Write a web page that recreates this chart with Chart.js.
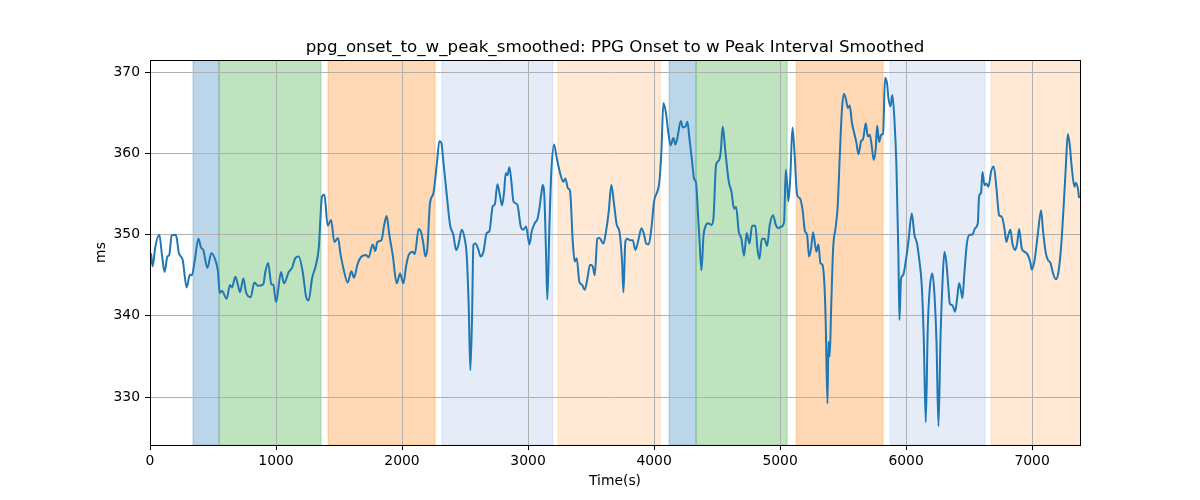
<!DOCTYPE html>
<html>
<head>
<meta charset="utf-8">
<title>ppg_onset_to_w_peak_smoothed</title>
<script src="https://cdn.jsdelivr.net/npm/chart.js@4.4.1/dist/chart.umd.min.js"></script>
<style>
  html, body { margin: 0; padding: 0; background: #fff; }
  #wrap { width: 1200px; height: 500px; }
</style>
</head>
<body>
<div id="wrap"><canvas id="chart" width="1200" height="500"></canvas></div>
<script>
// Series: time (s) and interval (ms)
const timeS = [
  8, 21, 42, 74, 95, 116, 138, 153, 172, 201, 212, 228, 259, 291, 317, 333, 354, 384, 405, 423,
  455, 487, 524, 540, 553, 571, 608, 635, 651, 677, 698, 714, 741, 762, 799, 828, 857, 899, 915, 937,
  963, 979, 1000, 1040, 1063, 1101, 1127, 1153, 1180, 1212, 1238, 1259, 1286, 1317, 1339, 1365, 1384, 1410, 1437, 1463,
  1492, 1511, 1534, 1569, 1598, 1619, 1646, 1672, 1714, 1735, 1767, 1788, 1804, 1836, 1860, 1878, 1899, 1926, 1958, 1984,
  2011, 2032, 2053, 2085, 2101, 2132, 2153, 2169, 2185, 2201, 2222, 2249, 2278, 2296, 2312, 2328, 2355, 2381, 2407, 2429,
  2447, 2474, 2497, 2513, 2529, 2542, 2556, 2566, 2582, 2603, 2624, 2646, 2672, 2693, 2720, 2736, 2757, 2778, 2794, 2810,
  2823, 2836, 2852, 2868, 2884, 2915, 2942, 2963, 2984, 3011, 3029, 3053, 3074, 3090, 3106, 3116, 3130, 3143, 3153, 3169,
  3185, 3206, 3228, 3254, 3280, 3296, 3317, 3333, 3355, 3370, 3386, 3407, 3429, 3450, 3471, 3492, 3513, 3529, 3550, 3566,
  3598, 3619, 3640, 3661, 3683, 3704, 3725, 3746, 3757, 3772, 3788, 3810, 3831, 3852, 3878, 3900, 3921, 3937, 3958, 3979,
  4000, 4026, 4042, 4058, 4074, 4095, 4111, 4132, 4153, 4169, 4185, 4212, 4228, 4249, 4265, 4280, 4302, 4317, 4333, 4349,
  4360, 4376, 4392, 4407, 4429, 4455, 4471, 4492, 4513, 4529, 4545, 4566, 4593, 4614, 4635, 4651, 4672, 4693, 4714, 4735,
  4757, 4778, 4804, 4820, 4836, 4855, 4876, 4897, 4918, 4944, 4966, 4987, 5013, 5032, 5045, 5055, 5066, 5082, 5098, 5114,
  5135, 5156, 5177, 5198, 5214, 5230, 5246, 5262, 5288, 5304, 5320, 5336, 5352, 5362, 5376, 5384, 5394, 5405, 5421, 5442,
  5458, 5474, 5489, 5505, 5521, 5537, 5553, 5569, 5590, 5606, 5622, 5643, 5659, 5680, 5696, 5712, 5728, 5743, 5759, 5770,
  5786, 5802, 5817, 5833, 5849, 5860, 5876, 5891, 5907, 5923, 5939, 5947, 5960, 5976, 5997, 6018, 6045, 6066, 6087, 6103,
  6124, 6140, 6156, 6172, 6188, 6209, 6225, 6241, 6257, 6273, 6289, 6304, 6320, 6336, 6347, 6368, 6389, 6405, 6421, 6437,
  6447, 6463, 6484, 6505, 6526, 6548, 6569, 6579, 6595, 6606, 6622, 6637, 6653, 6675, 6696, 6717, 6738, 6759, 6780, 6796,
  6812, 6828, 6844, 6865, 6881, 6897, 6918, 6939, 6966, 6987, 6997, 7018, 7045, 7071, 7087, 7109, 7125, 7146, 7167, 7188,
  7209, 7230, 7251, 7267, 7283, 7299, 7315, 7336, 7347, 7363, 7373
];
const valueMs = [
  347.7, 346.1, 348.5, 350.0, 347.5, 345.4, 347.3, 347.5, 349.9, 350.0, 349.6, 347.8, 346.9, 343.5, 345.1, 345.0, 346.7, 349.5, 348.4, 348.1,
  345.9, 347.7, 346.6, 345.4, 342.8, 343.1, 342.1, 343.8, 343.5, 344.8, 343.8, 342.9, 344.6, 342.9, 342.3, 344.1, 343.7, 343.9, 345.4, 346.5,
  343.9, 343.8, 341.7, 345.4, 344.0, 345.4, 345.9, 347.1, 347.3, 345.4, 342.4, 341.9, 344.6, 346.3, 348.3, 354.7, 354.9, 351.1, 351.8, 349.1,
  349.6, 347.7, 345.9, 344.1, 345.5, 344.7, 346.3, 347.2, 347.5, 347.2, 348.8, 348.0, 349.1, 349.3, 351.3, 352.3, 350.0, 347.5, 344.0, 345.2,
  344.0, 346.1, 347.5, 347.9, 347.6, 350.7, 350.2, 348.9, 347.3, 348.3, 353.9, 355.1, 359.0, 361.5, 361.3, 359.0, 354.9, 351.2, 350.0, 348.1,
  348.7, 350.6, 349.5, 347.5, 341.3, 333.3, 340.1, 348.7, 348.9, 348.3, 347.3, 347.9, 350.2, 350.4, 353.5, 353.7, 356.2, 354.7, 353.6, 355.3,
  357.6, 357.3, 358.3, 356.5, 354.1, 353.7, 351.0, 350.6, 351.0, 348.8, 350.4, 351.4, 351.9, 353.2, 355.1, 356.1, 354.5, 347.5, 342.0, 350.8,
  357.8, 361.1, 359.4, 357.6, 356.5, 356.9, 355.7, 355.4, 349.1, 346.7, 347.1, 344.2, 343.8, 343.2, 344.6, 346.3, 346.1, 345.0, 349.5, 349.6,
  348.9, 350.4, 352.8, 356.1, 353.7, 351.2, 350.4, 346.7, 342.9, 349.1, 349.5, 349.3, 349.3, 348.1, 349.5, 350.8, 350.0, 348.9, 348.8, 350.8,
  354.1, 355.3, 356.5, 360.2, 366.2, 364.9, 362.8, 361.0, 361.9, 361.1, 361.9, 364.0, 363.2, 363.3, 363.9, 361.9, 359.0, 356.9, 356.4, 352.4,
  349.5, 345.6, 349.8, 351.0, 351.4, 351.2, 352.0, 358.6, 359.1, 360.2, 363.3, 360.2, 356.5, 355.3, 353.2, 353.4, 350.4, 349.5, 347.4, 350.2,
  348.9, 351.1, 351.1, 348.3, 347.0, 349.5, 349.5, 348.6, 351.2, 352.4, 351.2, 350.8, 351.0, 351.6, 358.0, 356.5, 354.1, 357.4, 363.2, 360.2,
  354.9, 354.5, 353.2, 350.4, 350.0, 347.3, 348.3, 350.3, 347.9, 348.8, 346.5, 346.3, 343.8, 339.3, 329.2, 336.8, 335.0, 340.8, 348.3, 351.0,
  353.7, 359.8, 364.9, 367.3, 366.8, 365.6, 365.9, 363.9, 362.4, 361.3, 359.9, 361.5, 361.8, 363.7, 362.1, 362.3, 360.8, 359.2, 360.6, 363.4,
  361.4, 362.3, 362.4, 369.3, 368.6, 366.8, 365.8, 367.2, 364.3, 358.6, 347.5, 339.5, 344.6, 345.0, 346.7, 349.1, 352.6, 350.0, 348.9, 347.1,
  343.8, 337.3, 326.9, 338.5, 343.4, 345.2, 342.6, 336.9, 326.4, 337.3, 344.2, 347.9, 346.5, 343.4, 341.5, 341.3, 340.5, 342.2, 344.0, 343.0,
  342.2, 345.4, 349.1, 350.0, 350.0, 350.8, 351.4, 354.7, 355.2, 357.7, 356.1, 356.3, 355.9, 357.8, 358.4, 355.7, 352.4, 352.2, 350.8, 349.1,
  350.0, 350.6, 348.9, 348.1, 348.9, 350.7, 348.3, 347.9, 347.5, 346.5, 345.7, 346.7, 350.0, 353.0, 350.4, 347.7, 346.9, 346.5, 345.2, 344.5,
  345.4, 348.5, 353.7, 358.2, 362.4, 361.0, 358.2, 355.9, 356.4, 355.7, 354.5
];

// Tick labels
const xTicks = [0, 1000, 2000, 3000, 4000, 5000, 6000, 7000];
const yTicks = [330, 340, 350, 360, 370];

// Shaded phases (start, end in seconds)
const bandStart = [341, 548, 1413, 2317, 3238, 4119, 4333, 5127, 5873, 6675];
const bandEnd = [548, 1357, 2262, 3198, 4048, 4333, 5056, 5817, 6627, 7400];
const bandColor = [
  "rgba(31,119,180,0.3)", "rgba(44,160,44,0.3)", "rgba(255,127,14,0.3)",
  "rgba(80,130,200,0.15)", "rgba(255,127,14,0.18)",
  "rgba(31,119,180,0.3)", "rgba(44,160,44,0.3)", "rgba(255,127,14,0.3)",
  "rgba(80,130,200,0.15)", "rgba(255,127,14,0.18)"
];

const TITLE = "ppg_onset_to_w_peak_smoothed: PPG Onset to w Peak Interval Smoothed";
const FONT = "'DejaVu Sans', sans-serif";

// Draw the shaded spans under the grid
const bandPlugin = {
  id: "bands",
  beforeDraw(chart) {
    const { ctx, chartArea, scales } = chart;
    if (!chartArea) return;
    const x = scales.x;
    ctx.save();
    ctx.beginPath();
    ctx.rect(chartArea.left, chartArea.top, chartArea.right - chartArea.left, chartArea.bottom - chartArea.top);
    ctx.clip();
    bandStart.forEach((s, i) => {
      const x0 = x.getPixelForValue(s);
      const x1 = x.getPixelForValue(bandEnd[i]);
      ctx.fillStyle = bandColor[i];
      ctx.fillRect(x0, chartArea.top, x1 - x0, chartArea.bottom - chartArea.top);
      ctx.strokeStyle = bandColor[i];
      ctx.lineWidth = 1;
      ctx.strokeRect(x0, chartArea.top, x1 - x0, chartArea.bottom - chartArea.top);
    });
    ctx.restore();
  }
};

// Box around the plot (like matplotlib spines) and title centred over the axes
const framePlugin = {
  id: "frame",
  afterDraw(chart) {
    const { ctx, chartArea } = chart;
    ctx.save();
    ctx.strokeStyle = "#000";
    ctx.lineWidth = 1;
    ctx.strokeRect(Math.round(chartArea.left) + 0.5, Math.round(chartArea.top) + 0.5,
      Math.round(chartArea.right - chartArea.left), Math.round(chartArea.bottom - chartArea.top));
    ctx.fillStyle = "#000";
    ctx.font = "16.7px " + FONT;
    ctx.textAlign = "center";
    ctx.textBaseline = "alphabetic";
    ctx.fillText(TITLE, (chartArea.left + chartArea.right) / 2, chartArea.top - 8);
    ctx.restore();
  }
};

function renderChart() {
  const ctx = document.getElementById("chart").getContext("2d");
  const points = timeS.map((t, i) => ({ x: t, y: valueMs[i] }));

  new Chart(ctx, {
    type: "line",
    data: {
      datasets: [{
        data: points,
        borderColor: "#1f77b4",
        borderWidth: 2,
        pointRadius: 0,
        cubicInterpolationMode: "monotone",
        fill: false
      }]
    },
    options: {
      responsive: false,
      animation: false,
      devicePixelRatio: 1,
      layout: { padding: { left: 0, right: 120, top: 60, bottom: 0 } },
      plugins: {
        legend: { display: false },
        tooltip: { enabled: false },
        title: { display: false }
      },
      scales: {
        x: {
          type: "linear",
          min: 0,
          max: 7380,
          afterBuildTicks: axis => { axis.ticks = xTicks.map(v => ({ value: v })); },
          afterFit: axis => { axis.height = 55; },
          grid: { color: "#b0b0b0", tickColor: "#000", tickLength: 5, lineWidth: 1 },
          border: { color: "#000", width: 1 },
          ticks: {
            color: "#000",
            font: { family: FONT, size: 13.9 },
            padding: 3,
            maxRotation: 0,
            callback: v => String(v)
          },
          title: {
            display: true,
            text: "Time(s)",
            color: "#000",
            font: { family: FONT, size: 13.9 },
            padding: { top: 0, bottom: 10 }
          }
        },
        y: {
          type: "linear",
          min: 324.1,
          max: 371.5,
          afterBuildTicks: axis => { axis.ticks = yTicks.map(v => ({ value: v })); },
          afterFit: axis => { axis.width = 150; },
          grid: { color: "#b0b0b0", tickColor: "#000", tickLength: 5, lineWidth: 1 },
          border: { color: "#000", width: 1 },
          ticks: { color: "#000", font: { family: FONT, size: 13.9 }, padding: 5, callback: v => String(v) },
          title: {
            display: true,
            text: "ms",
            color: "#000",
            font: { family: FONT, size: 13.9 },
            padding: { top: 93, bottom: 0 }
          }
        }
      }
    },
    plugins: [bandPlugin, framePlugin]
  });
}

document.addEventListener("DOMContentLoaded", renderChart);
</script>
</body>
</html>
